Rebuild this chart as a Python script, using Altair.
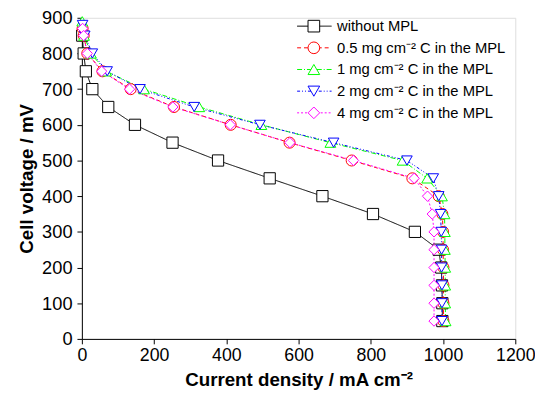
import altair as alt
import pandas as pd

# ---- data ----
series_names = [
    "without MPL",
    "0.5 mg cm⁻² C in the MPL",
    "1 mg cm⁻² C in the MPL",
    "2 mg cm⁻² C in the MPL",
    "4 mg cm⁻² C in the MPL",
]
series_colors = ["#000000", "#ff0000", "#00ff00", "#0000ff", "#ff00ff"]
series_dashes = [[1, 0], [4, 3], [5, 2, 1, 2], [3, 2, 1, 2, 1, 2], [2, 2]]
series_shapes = ["square", "circle", "triangle-up", "triangle-down", "diamond"]
series_sizes = [130, 110, 150, 150, 190]

v_without = [850, 800, 750, 700, 650, 600, 550, 500, 450, 400, 350, 300, 250, 200, 150, 100, 50]
i_without = [1, 5, 11, 29, 73, 147, 251, 377, 520, 666, 806, 922, 988, 995, 997, 998, 998]

v_05 = [870, 850, 800, 750, 700, 650, 600, 550, 500, 450, 400, 350, 300, 250, 200, 150, 100, 50]
i_05 = [2, 5, 15, 57, 135, 255, 412, 575, 747, 915, 988, 998, 1000, 1000, 1001, 1001, 1001, 1001]

v_1 = [890, 850, 800, 750, 700, 650, 600, 550, 500, 450, 400, 350, 300, 250, 200, 150, 100, 50]
i_1 = [1, 6, 25, 67, 172, 325, 497, 688, 888, 956, 997, 1004, 1005, 1005, 1006, 1006, 1006, 1007]

v_2 = [880, 850, 800, 750, 700, 650, 600, 550, 500, 450, 400, 350, 300, 250, 200, 150, 100, 50]
i_2 = [2, 8, 29, 70, 161, 311, 493, 697, 900, 973, 988, 993, 995, 996, 996, 997, 997, 997]

v_4 = [870, 850, 800, 750, 700, 650, 600, 550, 500, 450, 400, 350, 300, 250, 200, 150, 100, 50]
i_4 = [2, 5, 15, 55, 132, 252, 411, 576, 752, 920, 957, 970, 975, 975, 975, 975, 975, 975]

x_ticks = [0, 200, 400, 600, 800, 1000, 1200]
y_ticks = [0, 100, 200, 300, 400, 500, 600, 700, 800, 900]

# ---- build table ----
rows = []
for s, (ii, vv) in enumerate([(i_without, v_without), (i_05, v_05), (i_1, v_1), (i_2, v_2), (i_4, v_4)]):
    for k, (a, b) in enumerate(zip(ii, vv)):
        rows.append({"series": series_names[s], "I": a, "V": b, "idx": k, "sorder": s})
df = pd.DataFrame(rows)

FONT = "Liberation Sans"

x_enc = alt.X("I:Q", scale=alt.Scale(domain=[0, 1200], nice=False),
              axis=alt.Axis(title="Current density / mA cm⁻²", values=x_ticks, format="d", grid=False,
                            tickSize=5, labelFontSize=18, titleFontSize=19, titleFontWeight="bold",
                            labelFont=FONT, titleFont=FONT, labelPadding=3, titlePadding=6,
                            domainColor="black", tickColor="black", labelColor="black",
                            titleColor="black", labelFlush=False))
y_enc = alt.Y("V:Q", scale=alt.Scale(domain=[0, 900], nice=False),
              axis=alt.Axis(title="Cell voltage / mV", values=y_ticks, format="d", grid=False,
                            tickSize=5, labelFontSize=18.5, titleFontSize=19, titleFontWeight="bold",
                            labelFont=FONT, titleFont=FONT, labelPadding=5, titlePadding=5,
                            domainColor="black", tickColor="black", labelColor="black",
                            titleColor="black", labelFlush=False))

color_scale = alt.Scale(domain=series_names, range=series_colors)

leg_lines = alt.Legend(title=None, orient="none", legendX=218, legendY=0.5,
                       symbolType="stroke", symbolSize=1225, symbolStrokeWidth=1,
                       labelFont=FONT, labelFontSize=15, labelOffset=5, labelColor="black",
                       clipHeight=16, rowPadding=6, padding=0, labelLimit=300)
leg_marks = alt.Legend(title=None, orient="none", legendX=228, legendY=0.5,
                       symbolSize=140, symbolStrokeWidth=1, symbolFillColor="white",
                       labelFont=FONT, labelFontSize=15, labelOffset=5, labelExpr="''",
                       clipHeight=16, rowPadding=6, padding=0)

lines = alt.Chart(df).mark_line(strokeWidth=1, clip=True).encode(
    x=x_enc, y=y_enc,
    color=alt.Color("series:N", scale=color_scale, legend=leg_lines),
    strokeDash=alt.StrokeDash("series:N", scale=alt.Scale(domain=series_names, range=series_dashes), legend=leg_lines),
    order=alt.Order("idx:Q"),
)

points = alt.Chart(df).mark_point(filled=False, fill="white", strokeWidth=1, opacity=1).encode(
    x=x_enc, y=y_enc,
    color=alt.Color("series:N", scale=color_scale, legend=leg_marks),
    shape=alt.Shape("series:N", scale=alt.Scale(domain=series_names, range=series_shapes), legend=leg_marks),
    size=alt.Size("series:N", scale=alt.Scale(domain=series_names, range=series_sizes), legend=None),
    order=alt.Order("sorder:Q"),
)

chart = alt.layer(lines, points).resolve_legend(
    color="independent", shape="independent", strokeDash="independent"
).properties(
    width=440, height=326,
    autosize=alt.AutoSizeParams(type="none"),
    padding={"left": 75, "top": 7, "right": 20, "bottom": 52},
).configure_view(stroke="#808080", strokeWidth=1).configure(background="white")

chart.save("out.html", embed_options={"renderer": "svg", "actions": False})
